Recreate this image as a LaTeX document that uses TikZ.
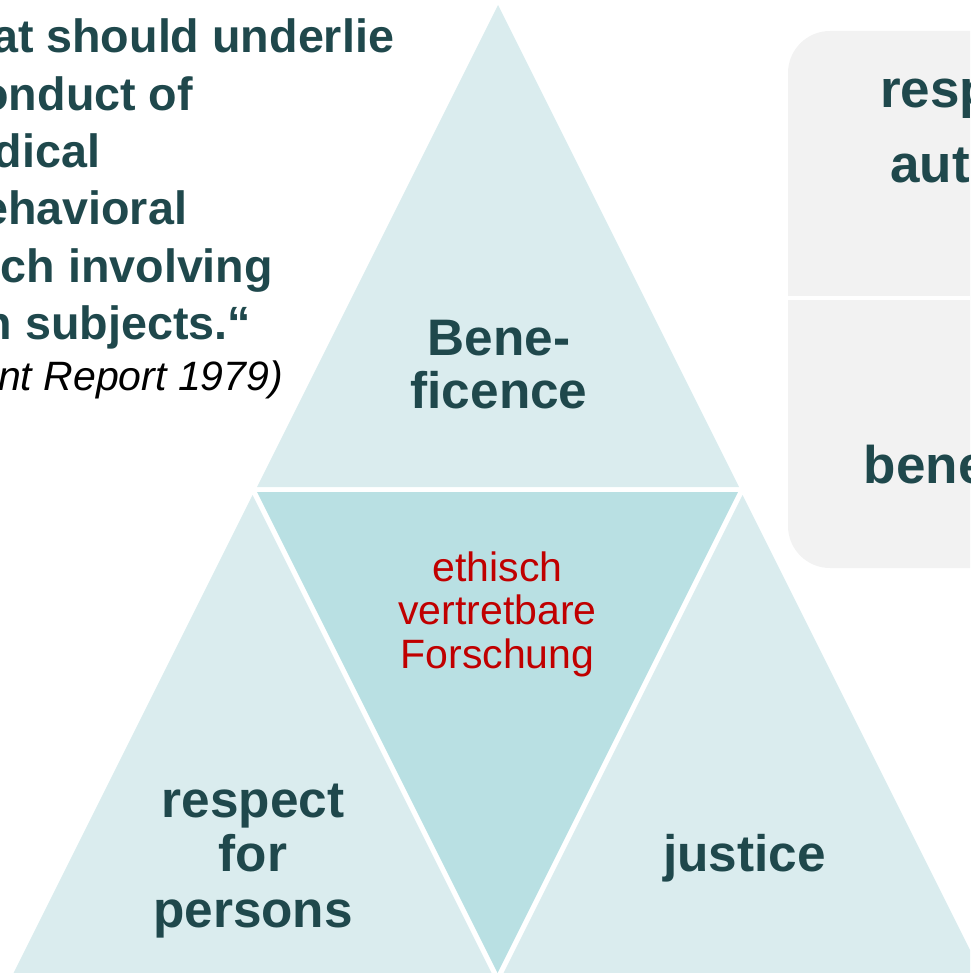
\documentclass[tikz,border=0pt]{standalone}
\usepackage{fontspec}
\setmainfont{Liberation Sans}
\definecolor{lt}{RGB}{218,236,238}
\definecolor{md}{RGB}{185,224,227}
\definecolor{gbox}{RGB}{242,242,242}
\definecolor{tt}{RGB}{31,72,76}
\definecolor{rd}{RGB}{192,0,0}
\begin{document}
\begin{tikzpicture}[x=0.75pt,y=-0.75pt,
  every node/.style={inner sep=0pt,outer sep=0pt},
  big/.style={font=\fontsize{38.5pt}{40pt}\selectfont\bfseries,text=tt,anchor=base},
  side/.style={font=\fontsize{39.75pt}{42pt}\selectfont\bfseries,text=tt,anchor=base},
  quote/.style={font=\fontsize{35pt}{40pt}\selectfont\bfseries,text=tt,anchor=base east},
  src/.style={font=\fontsize{30.75pt}{36pt}\selectfont\itshape,text=black,anchor=base east},
  redtxt/.style={font=\fontsize{30.75pt}{36pt}\selectfont,text=rd,anchor=base}]
\useasboundingbox (0,0) rectangle (970,973);
\clip (0,0) rectangle (970,973);
% triangles
\fill[lt] (498,5) -- (257,487) -- (739,487) -- cycle;
\fill[md] (257,492) -- (738,492) -- (497.5,973) -- cycle;
\fill[lt] (252.5,495) -- (505,1000) -- (0,1000) -- cycle;
\fill[lt] (742.5,495) -- (995,1000) -- (490,1000) -- cycle;
% right box
\fill[gbox,rounded corners=31.5pt] (788,31) rectangle (1230,568);
\draw[white,line width=3.5pt] (786,298) -- (1000,298);
% quote
\node[quote] (q1) at (394,53) {that should underlie};
\node[quote] (q2) at (193,110.3) {conduct of};
\node[quote] (q3) at (100,167.6) {biomedical};
\node[quote] (q4) at (187,224.9) {behavioral};
\node[quote] (q5) at (273,282.2) {research involving};
\node[quote] (q6) at (251,339.5) {human subjects.“};
\node[src] (q7) at (283,390) {(Belmont Report 1979)};
% triangle labels
\node[big] (b1) at (499,355) {Bene-};
\node[big] (b2) at (499,408) {ficence};
\node[redtxt] (e1) at (497.5,581) {ethisch};
\node[redtxt] (e2) at (497.5,624) {vertretbare};
\node[redtxt] (e3) at (497.5,668) {Forschung};
\node[big] (r1) at (253,817) {respect};
\node[big] (r2) at (253,871) {for};
\node[big] (r3) at (253,927) {persons};
\node[big] (j1) at (744.5,871) {justice};
% right box labels
\node[side] (s1) at (1017,108) {respect for};
\node[side] (s2) at (1017,183) {autonomy};
\node[side] (s3) at (1017,483) {beneficence};
\end{tikzpicture}
\end{document}
